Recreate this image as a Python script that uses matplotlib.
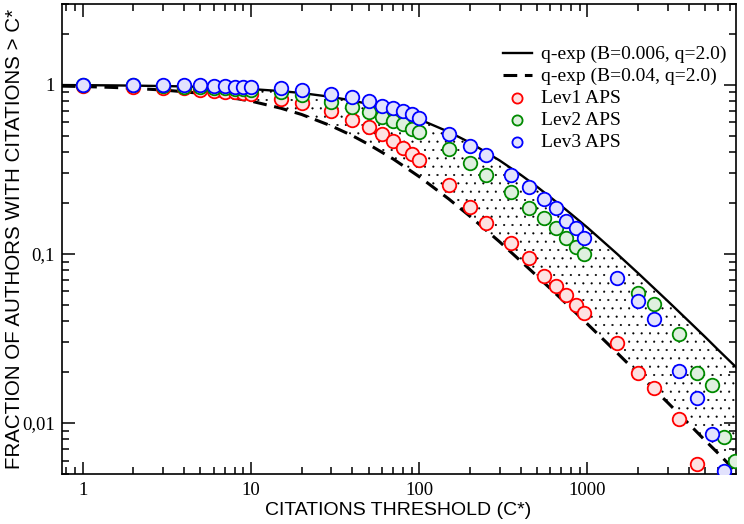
import matplotlib
matplotlib.use("Agg")
import matplotlib.pyplot as plt
from matplotlib.ticker import FixedLocator, FixedFormatter, LogLocator, NullFormatter

# ---- model curves ----
curve_x = [0.75, 1, 1.5, 2, 3, 4, 5, 7, 10, 15, 20, 30, 40, 50, 70, 100, 150, 200,
           300, 400, 500, 700, 1000, 1500, 2000, 3000, 4000, 5000, 6000, 7600]
solid_y = [0.9955, 0.994, 0.991, 0.988, 0.982, 0.977, 0.971, 0.960, 0.943, 0.917, 0.893,
           0.847, 0.806, 0.769, 0.704, 0.625, 0.526, 0.455, 0.357, 0.294, 0.25, 0.192,
           0.143, 0.10, 0.0769, 0.0526, 0.040, 0.0323, 0.0270, 0.0215]
dashed_y = [0.981, 0.976, 0.964, 0.952, 0.930, 0.909, 0.889, 0.851, 0.80, 0.727, 0.667,
            0.571, 0.50, 0.444, 0.364, 0.286, 0.211, 0.167, 0.118, 0.0909, 0.0741, 0.0541,
            0.0385, 0.026, 0.0196, 0.0132, 0.0099, 0.0079, 0.0066, 0.0052]
solid_label = "q-exp (B=0.006, q=2.0)"
dashed_label = "q-exp (B=0.04, q=2.0)"

# ---- data ----
lev1_x = [1, 2, 3, 4, 5, 6, 7, 8, 9, 10, 15, 20, 30, 40, 50, 60, 70, 80, 90, 100,
          150, 200, 250, 350, 450, 550, 650, 750, 850, 950, 1500, 2000, 2500, 3500, 4500]
lev1_y = [0.98, 0.97, 0.96, 0.95, 0.93, 0.92, 0.91, 0.90, 0.89, 0.88, 0.824, 0.78, 0.695,
          0.62, 0.563, 0.508, 0.468, 0.424, 0.391, 0.358, 0.255, 0.19, 0.152, 0.116, 0.094,
          0.0737, 0.0647, 0.0569, 0.050, 0.0447, 0.0296, 0.0198, 0.0162, 0.0106, 0.0057]

lev2_x = [1, 2, 3, 4, 5, 6, 7, 8, 9, 10, 15, 20, 30, 40, 50, 60, 70, 80, 90, 100,
          150, 200, 250, 350, 450, 550, 650, 750, 850, 950, 2000, 2500, 3500, 4500,
          5500, 6500, 7500]
lev2_y = [0.995, 0.99, 0.985, 0.975, 0.97, 0.96, 0.955, 0.945, 0.94, 0.935, 0.90, 0.87,
          0.79, 0.74, 0.687, 0.648, 0.608, 0.582, 0.549, 0.524, 0.419, 0.344, 0.291, 0.233,
          0.186, 0.162, 0.143, 0.125, 0.11, 0.10, 0.0585, 0.0508, 0.0338, 0.0197, 0.0168,
          0.0083, 0.006]

lev3_x = [1, 2, 3, 4, 5, 6, 7, 8, 9, 10, 15, 20, 30, 40, 50, 60, 70, 80, 90, 100,
          150, 200, 250, 350, 450, 550, 650, 750, 850, 950, 1500, 2000, 2500, 3500, 4500,
          5500, 6500]
lev3_y = [1.0, 1.0, 0.995, 0.99, 0.99, 0.985, 0.98, 0.975, 0.97, 0.97, 0.95, 0.93, 0.88,
          0.845, 0.805, 0.745, 0.725, 0.697, 0.672, 0.637, 0.513, 0.434, 0.382, 0.291, 0.247,
          0.21, 0.186, 0.156, 0.142, 0.124, 0.072, 0.0528, 0.0413, 0.0202, 0.0141, 0.0086,
          0.0052]

series_labels = ["Lev1 APS", "Lev2 APS", "Lev3 APS"]
series_colors = ["#ff0000", "#008a00", "#0000ff"]
series_faces = ["#fde2e2", "#dff0df", "#e2e2fd"]

x_ticks = [1, 10, 100, 1000]
x_ticklabels = ["1", "10", "100", "1000"]
y_ticks = [0.01, 0.1, 1]
y_ticklabels = ["0,01", "0,1", "1"]

serif = ["Liberation Serif", "DejaVu Serif"]
sans = ["Liberation Sans", "DejaVu Sans"]
plt.rcParams["hatch.linewidth"] = 0.3

fig = plt.figure(figsize=(7.44, 5.24), dpi=100)
ax = fig.add_axes([61.7 / 744, 50 / 524, 674 / 744, 470 / 524])
ax.set_xscale("log")
ax.set_yscale("log")
ax.set_xlim(0.75, 7600)
ax.set_ylim(0.005, 3)

ax.fill_between(curve_x, dashed_y, solid_y, facecolor="none", edgecolor="black",
                hatch="..", linewidth=0, zorder=1)
l1, = ax.plot(curve_x, solid_y, color="black", lw=1.7, zorder=2, label=solid_label)
l2, = ax.plot(curve_x, dashed_y, color="black", lw=2.2, dashes=(4.5, 2.5), zorder=2,
              label=dashed_label)

handles = [l1, l2]
for xs, ys, lab, c, f in zip([lev1_x, lev2_x, lev3_x], [lev1_y, lev2_y, lev3_y],
                             series_labels, series_colors, series_faces):
    h = ax.scatter(xs, ys, s=95, facecolor=f, edgecolor=c, linewidths=1.3, zorder=3,
                   label=lab)
    handles.append(h)

leg = ax.legend(handles=handles, loc="upper right", bbox_to_anchor=(1.006, 0.94),
                frameon=False, prop={"family": serif, "size": 14}, handlelength=1.5,
                handletextpad=0.45, labelspacing=0.22, markerscale=0.75, borderaxespad=0.3)

ax.xaxis.set_major_locator(FixedLocator(x_ticks))
ax.xaxis.set_major_formatter(FixedFormatter(x_ticklabels))
ax.yaxis.set_major_locator(FixedLocator(y_ticks))
ax.yaxis.set_major_formatter(FixedFormatter(y_ticklabels))
ax.xaxis.set_minor_locator(LogLocator(base=10, subs=range(2, 10), numticks=20))
ax.yaxis.set_minor_locator(LogLocator(base=10, subs=range(2, 10), numticks=20))
ax.xaxis.set_minor_formatter(NullFormatter())
ax.yaxis.set_minor_formatter(NullFormatter())
ax.tick_params(which="both", direction="in", top=True, right=True, width=1.1)
ax.tick_params(which="major", length=9)
ax.tick_params(which="minor", length=5)
ax.tick_params(axis="x", which="major", pad=6)
ax.tick_params(axis="y", which="major", pad=5)
for lab in ax.get_xticklabels() + ax.get_yticklabels():
    lab.set_family(serif)
    lab.set_fontsize(13.5)
for sp in ax.spines.values():
    sp.set_linewidth(1.2)

ax.set_xlabel("CITATIONS THRESHOLD (C*)", family=sans, fontsize=14)
ax.set_ylabel("FRACTION OF AUTHORS WITH CITATIONS > C*", family=sans, fontsize=14.8)
ax.xaxis.set_label_coords((398 - 61.7) / 674, (474 - 502) / 470)
ax.yaxis.set_label_coords((24 - 61.7) / 674, 0.5)

fig.savefig("out.png", dpi=100)
